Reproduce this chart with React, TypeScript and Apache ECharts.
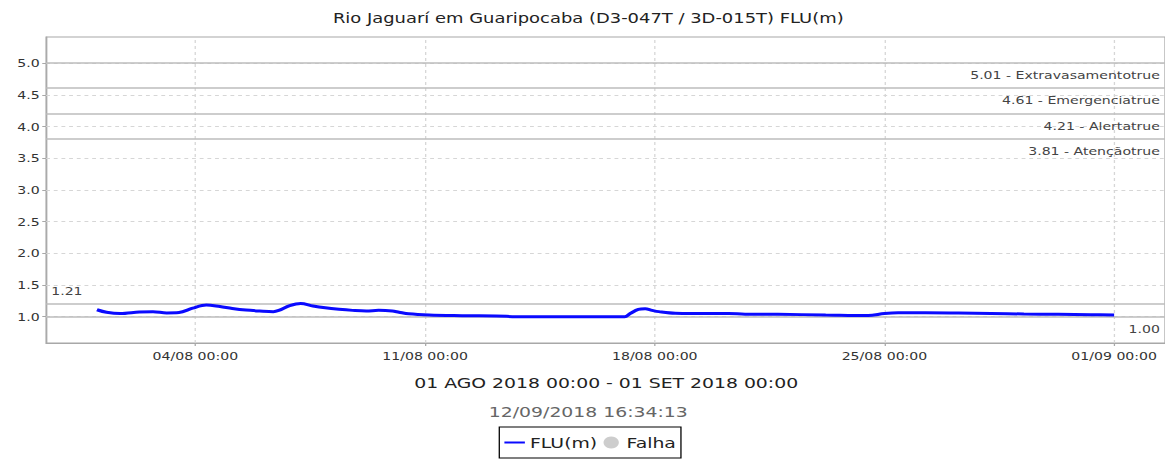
import React, { useEffect, useRef } from "react";
import * as echarts from "echarts";

const titleText = "Rio Jaguarí em Guaripocaba (D3-047T / 3D-015T) FLU(m)";
const periodText = "01 AGO 2018 00:00 - 01 SET 2018 00:00";
const stampText = "12/09/2018 16:34:13";

const times = [
  "2018-08-01 00:00", "2018-08-01 07:00", "2018-08-01 17:00", "2018-08-02 07:00", "2018-08-02 17:00",
  "2018-08-03 03:00", "2018-08-03 12:00", "2018-08-03 22:00", "2018-08-04 08:00", "2018-08-04 18:00",
  "2018-08-05 03:00", "2018-08-05 13:00", "2018-08-05 23:00", "2018-08-06 09:00", "2018-08-06 13:00",
  "2018-08-06 21:00", "2018-08-07 05:00", "2018-08-07 14:00", "2018-08-07 23:00", "2018-08-08 09:00",
  "2018-08-08 19:00", "2018-08-09 05:00", "2018-08-09 14:00", "2018-08-10 00:00", "2018-08-10 05:00",
  "2018-08-10 12:00", "2018-08-11 03:00", "2018-08-12 03:00", "2018-08-13 04:00", "2018-08-13 23:00",
  "2018-08-14 21:00", "2018-08-15 17:00", "2018-08-16 17:00", "2018-08-17 02:00", "2018-08-17 06:00",
  "2018-08-17 12:00", "2018-08-17 17:00", "2018-08-17 22:00", "2018-08-18 03:00", "2018-08-18 15:00",
  "2018-08-19 18:00", "2018-08-20 06:00", "2018-08-20 18:00", "2018-08-21 18:00", "2018-08-23 05:00",
  "2018-08-24 12:00", "2018-08-25 00:00", "2018-08-25 10:00", "2018-08-26 06:00", "2018-08-27 06:00",
  "2018-08-28 06:00", "2018-08-29 06:00", "2018-08-30 07:00", "2018-08-31 07:00", "2018-09-01 00:00",
];
const levels = [
  1.11, 1.07, 1.05, 1.075, 1.08,
  1.06, 1.065, 1.135, 1.185, 1.16,
  1.13, 1.105, 1.09, 1.08, 1.1,
  1.175, 1.21, 1.17, 1.14, 1.117,
  1.1, 1.09, 1.1, 1.09, 1.07,
  1.045, 1.027, 1.017, 1.01, 1.0,
  1.0, 1.0, 1.0, 1.0, 1.05,
  1.115, 1.125, 1.1, 1.08, 1.055,
  1.05, 1.05, 1.04, 1.038, 1.027,
  1.018, 1.05, 1.062, 1.062, 1.058,
  1.052, 1.043, 1.038, 1.032, 1.027,
];

const thresholdValues = [5.01, 4.61, 4.21, 3.81];
const thresholdNames = ["Extravasamentotrue", "Emergenciatrue", "Alertatrue", "Atençãotrue"];

const xTickLabels = ["2018-08-04 00:00", "2018-08-11 00:00", "2018-08-18 00:00", "2018-08-25 00:00", "2018-09-01 00:00"];
const yTicks = [1.0, 1.5, 2.0, 2.5, 3.0, 3.5, 4.0, 4.5, 5.0];
const xRange = ["2018-07-30 10:48", "2018-09-02 13:12"];
const yRange = [0.585, 5.415];

function parseT(s: string): number {
  const [d, t] = s.split(" ");
  const [y, m, dd] = d.split("-").map(Number);
  const [h, mi] = t.split(":").map(Number);
  return Date.UTC(y, m - 1, dd, h, mi);
}
function fmtT(v: number): string {
  const d = new Date(v);
  const p = (n: number) => String(n).padStart(2, "0");
  return `${p(d.getUTCDate())}/${p(d.getUTCMonth() + 1)} ${p(d.getUTCHours())}:${p(d.getUTCMinutes())}`;
}

const FONT = "DejaVu Sans";
const PAGE_W = 1165;
const BASE_W = 910;
const SX = PAGE_W / BASE_W;

export default function App() {
  const ref = useRef<HTMLDivElement>(null);
  useEffect(() => {
    if (!ref.current) return;
    const chart = echarts.init(ref.current, null, { renderer: "svg" });
    const xTicks = xTickLabels.map(parseT);
    const seriesData = times.map((t, i) => [parseT(t), levels[i]]);
    const gridColor = "#d6d6d6";
    chart.setOption({
      animation: false,
      backgroundColor: "#ffffff",
      textStyle: { fontFamily: FONT },
      grid: {
        left: 36, right: -2, top: 37, bottom: 117,
        show: true, borderColor: "#a8a8a8", borderWidth: 1, backgroundColor: "#ffffff",
      },
      xAxis: {
        type: "value",
        min: parseT(xRange[0]),
        max: parseT(xRange[1]),
        axisLine: { show: true, lineStyle: { color: "#a8a8a8", width: 1 } },
        axisTick: { show: true, length: 3, customValues: xTicks, lineStyle: { color: "#a8a8a8" } },
        axisLabel: {
          customValues: xTicks, formatter: (v: number) => fmtT(v),
          color: "#333", fontSize: 11, fontFamily: FONT, margin: 8,
        },
        splitLine: { show: false },
      },
      yAxis: {
        type: "value",
        min: yRange[0],
        max: yRange[1],
        axisLine: { show: true, lineStyle: { color: "#a8a8a8", width: 1 } },
        axisTick: { show: true, length: 3, customValues: yTicks, lineStyle: { color: "#a8a8a8" } },
        axisLabel: {
          customValues: yTicks, formatter: (v: number) => v.toFixed(1),
          color: "#333", fontSize: 11, fontFamily: FONT, margin: 5,
        },
        splitLine: { show: false },
      },
      legend: {
        left: 390, top: 427,
        padding: [8, 4, 8, 4],
        itemGap: 5,
        itemWidth: 16,
        itemHeight: 12,
        borderColor: "#000", borderWidth: 1,
        textStyle: { fontSize: 14.7, color: "#222", fontFamily: FONT, padding: [0, 0, 0, -1] },
        data: [
          { name: "FLU(m)", icon: "path://M0,0 L16,0 L16,2 L0,2 Z" },
          { name: "Falha", icon: "circle", itemStyle: { color: "#c0c0c0" } },
        ],
      },
      graphic: [
        { type: "text", x: 459.5, y: 18, style: { text: titleText, textAlign: "center", textVerticalAlign: "middle", fontSize: 14, fill: "#222", fontFamily: FONT } },
        { type: "text", x: 473.5, y: 383, style: { text: periodText, textAlign: "center", textVerticalAlign: "middle", fontSize: 14.7, fill: "#222", fontFamily: FONT } },
        { type: "text", x: 459.5, y: 412, style: { text: stampText, textAlign: "center", textVerticalAlign: "middle", fontSize: 14.7, fill: "#666", fontFamily: FONT } },
      ],
      series: [
        {
          name: "grid",
          type: "line",
          data: [],
          silent: true,
          markLine: {
            silent: true,
            symbol: "none",
            label: { show: false },
            lineStyle: { color: gridColor, type: [3, 3], width: 1 },
            data: [
              ...xTicks.map((v) => ({ xAxis: v })),
              ...yTicks.map((v) => ({ yAxis: v })),
            ],
          },
        },
        {
          name: "limits",
          type: "line",
          data: [],
          silent: true,
          markLine: {
            silent: true,
            symbol: "none",
            lineStyle: { color: "#bdbdbd", type: "solid", width: 1.5 },
            label: {
              position: "insideEndBottom", color: "#444", fontSize: 11, fontFamily: FONT, distance: [4, 7],
            },
            data: thresholdValues.map((v, i) => ({
              yAxis: v,
              label: { formatter: `${v.toFixed(2)} - ${thresholdNames[i]}` },
            })),
          },
        },
        {
          name: "FLU(m)",
          type: "line",
          data: seriesData,
          showSymbol: false,
          smooth: 0.35,
          color: "#0a0aff",
          lineStyle: { color: "#0a0aff", width: 3 },
          markLine: {
            silent: true,
            symbol: "none",
            lineStyle: { color: "#bdbdbd", type: "solid", width: 1.5 },
            label: { color: "#444", fontSize: 11, fontFamily: FONT, distance: [4, 7] },
            data: [
              { type: "max", label: { position: "insideStartTop", formatter: (p: any) => Number(p.value).toFixed(2) } },
              { type: "min", label: { position: "insideEndBottom", formatter: (p: any) => Number(p.value).toFixed(2) } },
            ],
          },
          z: 5,
        },
        {
          name: "Falha",
          type: "scatter",
          data: [],
          color: "#c0c0c0",
        },
      ],
    });
    return () => chart.dispose();
  }, []);
  return (
    <div style={{ position: "absolute", left: 0, top: 0, width: PAGE_W, height: 460, overflow: "hidden", background: "#fff" }}>
      <div
        ref={ref}
        style={{ width: BASE_W, height: 460, transform: `scaleX(${SX})`, transformOrigin: "0 0" }}
      />
    </div>
  );
}
